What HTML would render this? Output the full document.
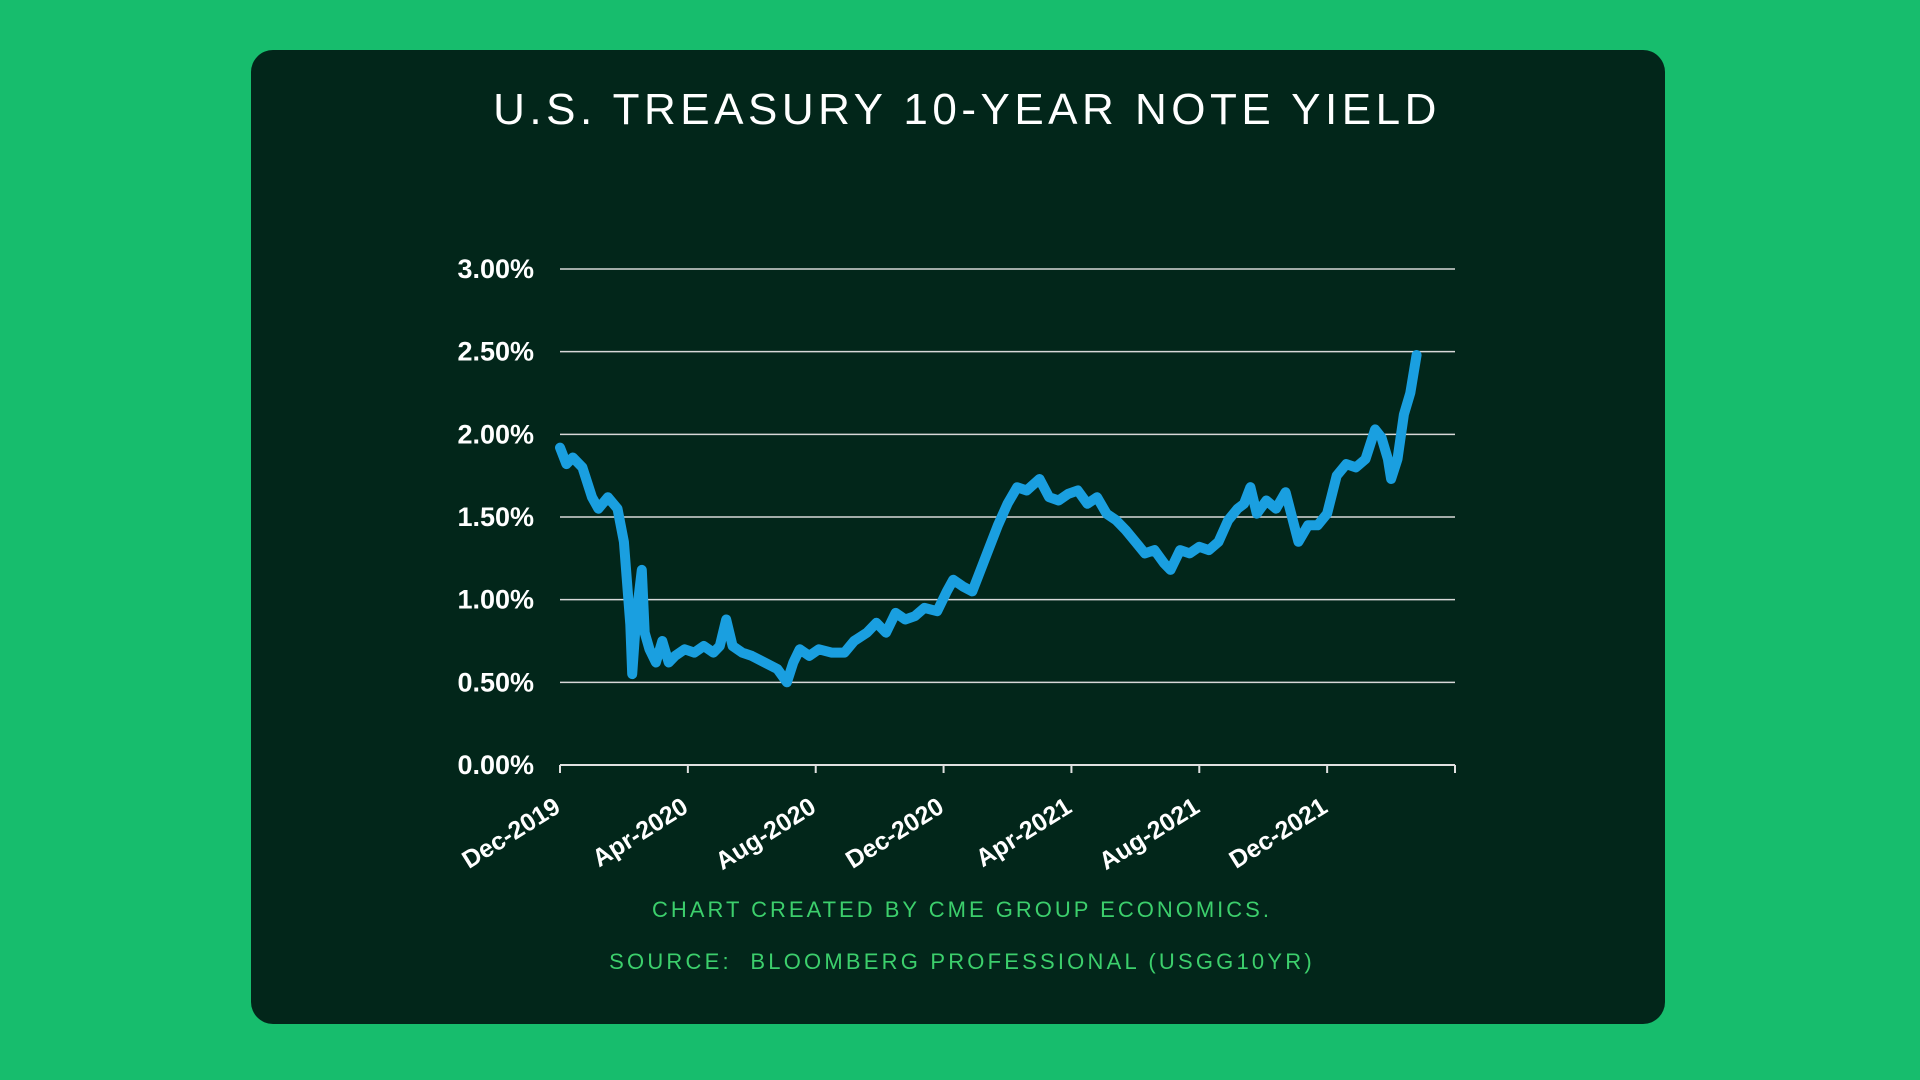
<!DOCTYPE html>
<html><head><meta charset="utf-8"><style>
html,body{margin:0;padding:0;width:1920px;height:1080px;overflow:hidden;background:#17bd6d;font-family:"Liberation Sans",sans-serif;}
#panel{position:absolute;left:251px;top:50px;width:1414px;height:974px;background:#02261a;border-radius:22px;}
</style></head><body>
<div id="panel"></div>
<svg id="chart" width="1920" height="1080" style="position:absolute;left:0;top:0">
<text x="967" y="124" text-anchor="middle" fill="#ffffff" font-size="44" letter-spacing="4.5" font-family="Liberation Sans, sans-serif">U.S. TREASURY 10-YEAR NOTE YIELD</text>
<text x="962" y="917" text-anchor="middle" fill="#3ccf6c" font-size="22" letter-spacing="3">CHART CREATED BY CME GROUP ECONOMICS.</text>
<text x="962" y="969" text-anchor="middle" fill="#3ccf6c" font-size="22" letter-spacing="3.2">SOURCE:&#160; BLOOMBERG PROFESSIONAL (USGG10YR)</text>
</svg>
<script>
const yTicks=[0,0.5,1,1.5,2,2.5,3];
const yTickLabels=["0.00%","0.50%","1.00%","1.50%","2.00%","2.50%","3.00%"];
const xTickMonths=[0,4,8,12,16,20,24,28];
const xTickLabels=["Dec-2019","Apr-2020","Aug-2020","Dec-2020","Apr-2021","Aug-2021","Dec-2021",""];
const months=[0,0.2,0.4,0.7,1.0,1.2,1.5,1.8,2.0,2.1,2.2,2.26,2.35,2.45,2.56,2.65,2.8,3.0,3.2,3.4,3.6,3.9,4.2,4.5,4.8,5.0,5.2,5.4,5.7,6.0,6.4,6.8,7.1,7.3,7.5,7.8,8.1,8.5,8.9,9.2,9.6,9.9,10.2,10.5,10.8,11.1,11.4,11.8,12.1,12.3,12.6,12.9,13.1,13.4,13.7,14.0,14.3,14.6,15.0,15.3,15.6,15.9,16.2,16.5,16.8,17.1,17.4,17.7,18.0,18.3,18.6,18.9,19.1,19.4,19.7,20.0,20.3,20.6,20.9,21.2,21.4,21.6,21.8,22.1,22.4,22.7,23.1,23.4,23.7,24.0,24.3,24.6,24.9,25.2,25.5,25.7,25.9,26.0,26.2,26.4,26.6,26.8];
const yields=[1.92,1.82,1.86,1.80,1.62,1.55,1.62,1.55,1.35,1.10,0.85,0.55,0.80,1.00,1.18,0.80,0.70,0.62,0.75,0.62,0.66,0.70,0.68,0.72,0.68,0.72,0.88,0.72,0.68,0.66,0.62,0.58,0.50,0.62,0.70,0.66,0.70,0.68,0.68,0.75,0.80,0.86,0.80,0.92,0.88,0.90,0.95,0.93,1.05,1.12,1.08,1.05,1.15,1.30,1.45,1.58,1.68,1.66,1.73,1.62,1.60,1.64,1.66,1.58,1.62,1.52,1.48,1.42,1.35,1.28,1.30,1.22,1.18,1.30,1.28,1.32,1.30,1.35,1.48,1.55,1.58,1.68,1.52,1.60,1.55,1.65,1.35,1.45,1.45,1.52,1.75,1.82,1.80,1.85,2.03,1.98,1.85,1.73,1.85,2.12,2.25,2.48];

const svg=document.getElementById('chart');
const NS='http://www.w3.org/2000/svg';
const L=560,R=1455,Y0=765,Y3=269;
const xs=m=>L+(R-L)*m/28;
const ys=v=>Y0-(Y0-Y3)*v/3;
function mk(t,a){const e=document.createElementNS(NS,t);for(const k in a)e.setAttribute(k,a[k]);svg.appendChild(e);return e;}

yTicks.forEach((v,i)=>{
  if(v>0){const g=mk('line',{x1:L,x2:R,y1:ys(v),y2:ys(v),stroke:'#d8d8d8','stroke-width':1.5});
  
  }
  const t=mk('text',{x:534,y:ys(v)+9,'text-anchor':'end',fill:'#ffffff','font-size':27,'font-weight':'bold'});
  t.textContent=yTickLabels[i];
  
  
});
const ax=mk('line',{x1:L,x2:R,y1:Y0,y2:Y0,stroke:'#e0e0e0','stroke-width':2});


xTickMonths.forEach((m,i)=>{
  const tk=mk('line',{x1:xs(m),x2:xs(m),y1:Y0,y2:Y0+8,stroke:'#e0e0e0','stroke-width':2});
  
  
  if(xTickLabels[i]){
    const t=mk('text',{x:xs(m)+2,y:Y0+46,'text-anchor':'end',fill:'#ffffff','font-size':25,'font-weight':'bold',transform:`rotate(-32 ${xs(m)+2} ${Y0+46})`});
    t.textContent=xTickLabels[i];
    
    
  }
});
const d=months.map((m,i)=>(i?'L':'M')+xs(m).toFixed(1)+' '+ys(yields[i]).toFixed(1)).join(' ');
const p=mk('path',{d:d,fill:'none',stroke:'#1a9fe0','stroke-width':10,'stroke-linejoin':'round','stroke-linecap':'round'});


</script>
</body></html>
